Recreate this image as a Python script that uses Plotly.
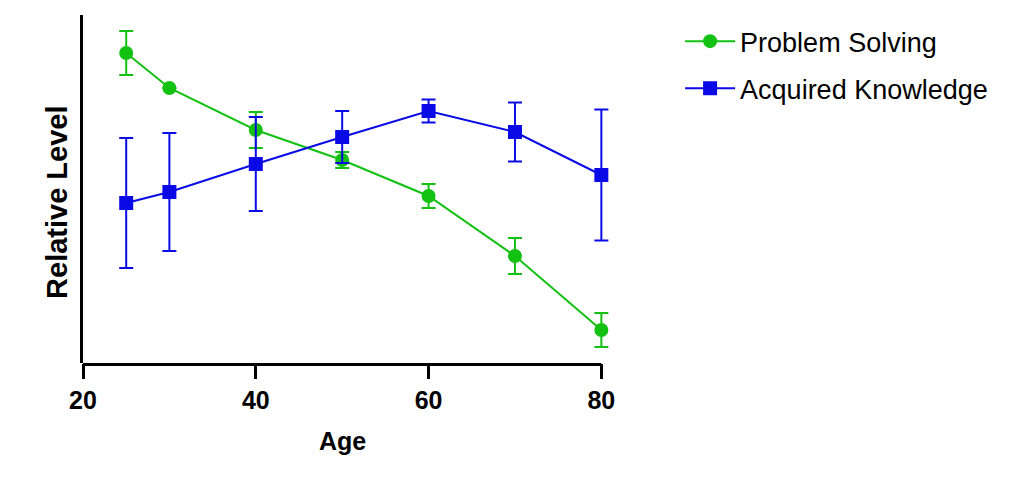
import plotly.graph_objects as go

ages = [25, 30, 40, 50, 60, 70, 80]
problem_solving = [310, 275, 233, 203, 167, 107, 33]
problem_solving_err = [22, 0, 18, 8, 12, 18, 17]
acquired_knowledge = [160, 171, 199, 226, 252, 231, 188]
acquired_knowledge_err = [65, 59, 47, 26, 11.5, 29.5, 65.5]
x_ticks = [20, 40, 60, 80]

GREEN = "#12C112"
BLUE = "#0A0AE6"
FONT = "Liberation Sans, Arial, sans-serif"

fig = go.Figure()
fig.add_trace(go.Scatter(
    x=ages, y=problem_solving, name="Problem Solving", mode="lines+markers",
    line=dict(color=GREEN, width=2), marker=dict(symbol="circle", size=14, color=GREEN),
    error_y=dict(type="data", array=problem_solving_err, color=GREEN, thickness=2, width=7),
    legendgroup="a", cliponaxis=False,
))
fig.add_trace(go.Scatter(
    x=ages, y=acquired_knowledge, name="Acquired Knowledge", mode="lines+markers",
    line=dict(color=BLUE, width=2), marker=dict(symbol="square", size=14, color=BLUE),
    error_y=dict(type="data", array=acquired_knowledge_err, color=BLUE, thickness=2, width=7),
    legendgroup="b", cliponaxis=False,
))

fig.add_annotation(
    text="<b>Relative Level</b>", xref="paper", yref="paper",
    x=-0.0493, y=0.46, xanchor="center", yanchor="middle",
    textangle=-90, showarrow=False, font=dict(size=29, family=FONT, color="black"),
)
fig.add_annotation(
    text="<b>Age</b>", xref="paper", yref="paper",
    x=0.4915, y=-0.224, xanchor="center", yanchor="middle",
    showarrow=False, font=dict(size=25, family=FONT, color="black"),
)

# x-axis line drawn only across the tick span (the plot area extends a bit further
# so that the error-bar caps at the last point are not clipped)
fig.add_shape(
    type="line", xref="x", yref="paper",
    x0=x_ticks[0], x1=x_ticks[-1], y0=-0.0043, y1=-0.0043,
    line=dict(color="black", width=3), layer="above",
)

fig.update_layout(
    width=1016, height=476,
    margin=dict(l=75, r=414, t=7, b=121, autoexpand=False),
    plot_bgcolor="white", paper_bgcolor="white",
    font=dict(family=FONT, color="black"),
    xaxis=dict(
        range=[20, 81], tickvals=x_ticks, ticktext=[str(v) for v in x_ticks],
        showline=False, showgrid=False, zeroline=False,
        ticks="outside", ticklen=15, tickwidth=3, tickcolor="black",
        tickfont=dict(size=25, family=FONT, weight="bold"),
        automargin=False,
    ),
    yaxis=dict(
        range=[0, 348], showticklabels=False, ticks="",
        showline=True, linecolor="black", linewidth=3, showgrid=False, zeroline=False,
        automargin=False,
    ),
    legend=dict(
        x=1.133, y=0.994, xanchor="left", yanchor="top",
        font=dict(size=27), traceorder="grouped", tracegroupgap=9,
        itemwidth=50, bgcolor="rgba(0,0,0,0)",
    ),
)

fig.write_html("out.html")
